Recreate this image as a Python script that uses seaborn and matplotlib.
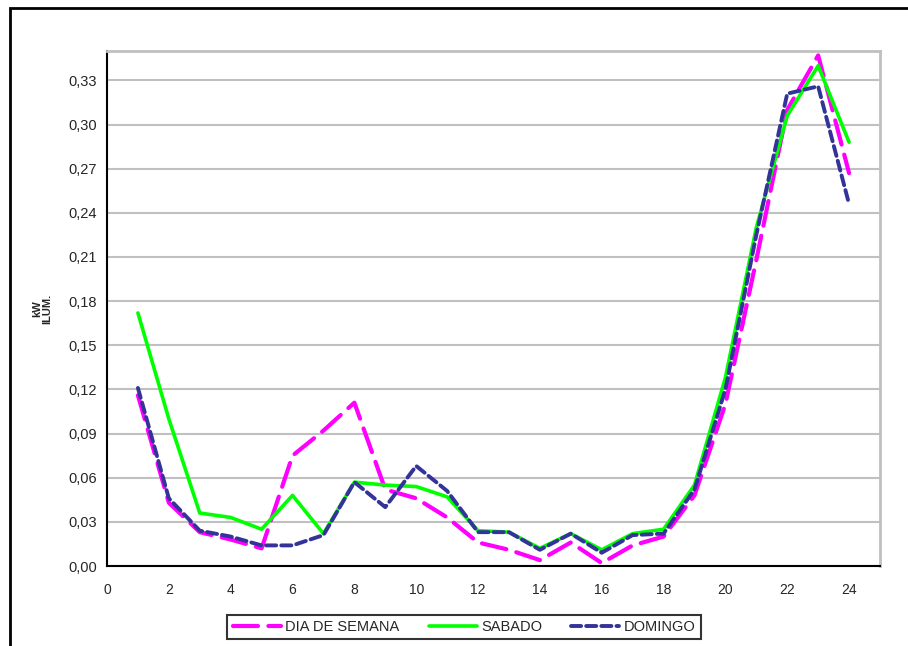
import numpy as np
import pandas as pd
import matplotlib
matplotlib.use("Agg")
import matplotlib.pyplot as plt
import seaborn as sns
from matplotlib.patches import Rectangle

# dados (kW por hora)
horas = list(range(1, 25))
dia_semana = [0.116, 0.043, 0.023, 0.018, 0.012, 0.075, 0.092, 0.111, 0.052, 0.046,
              0.033, 0.016, 0.011, 0.004, 0.016, 0.002, 0.014, 0.020, 0.048, 0.110,
              0.208, 0.310, 0.347, 0.267]
sabado = [0.172, 0.100, 0.036, 0.033, 0.025, 0.048, 0.022, 0.057, 0.055, 0.054,
          0.047, 0.024, 0.023, 0.012, 0.022, 0.011, 0.022, 0.025, 0.055, 0.128,
          0.230, 0.306, 0.340, 0.288]
domingo = [0.121, 0.046, 0.024, 0.020, 0.014, 0.014, 0.021, 0.057, 0.040, 0.068,
           0.051, 0.023, 0.023, 0.011, 0.022, 0.009, 0.021, 0.022, 0.052, 0.120,
           0.225, 0.321, 0.326, 0.246]

series_nomes = ["DIA DE SEMANA", "SABADO", "DOMINGO"]
x_ticks = list(range(0, 26, 2))
y_ticks = [0.00, 0.03, 0.06, 0.09, 0.12, 0.15, 0.18, 0.21, 0.24, 0.27, 0.30, 0.33]
y_labels = ["0,00", "0,03", "0,06", "0,09", "0,12", "0,15", "0,18", "0,21",
            "0,24", "0,27", "0,30", "0,33"]

df = pd.DataFrame({"hora": horas, series_nomes[0]: dia_semana,
                   series_nomes[1]: sabado, series_nomes[2]: domingo})

sns.set_style("white")
plt.rcParams["font.family"] = ["Liberation Sans", "DejaVu Sans"]

fig = plt.figure(figsize=(9.08, 6.46), dpi=100)
ax = fig.add_axes([107 / 908, 1 - 566 / 646, (880 - 107) / 908, (566 - 51) / 646])

estilos = {
    "DIA DE SEMANA": dict(color="#FF00FF", lw=3.0, dashes=(6, 2.5)),
    "SABADO": dict(color="#00FF00", lw=2.6),
    "DOMINGO": dict(color="#333399", lw=2.8, dashes=(2.6, 1.3)),
}

for nome in series_nomes:
    st = estilos[nome]
    sns.lineplot(data=df, x="hora", y=nome, ax=ax, color=st["color"], linewidth=st["lw"],
                 label=nome, solid_capstyle="round", dash_capstyle="round")
    if "dashes" in st:
        ax.lines[-1].set_dashes(st["dashes"])

ax.set_xlim(0, 25)
ax.set_ylim(0, 0.35)
ax.set_xticks(x_ticks)
ax.set_xticklabels([str(t) for t in x_ticks], fontsize=10)
ax.set_yticks(y_ticks)
ax.set_yticklabels(y_labels, fontsize=10.5)
ax.yaxis.grid(True, color="#C0C0C0", linewidth=1.5)
ax.set_axisbelow(True)
ax.tick_params(axis="both", direction="out", length=4, width=1.2, color="black")
ax.tick_params(axis="y", pad=3)
ax.tick_params(axis="x", pad=8)
for s in ["top", "right"]:
    ax.spines[s].set_color("#C0C0C0")
    ax.spines[s].set_linewidth(2)
for s in ["left", "bottom"]:
    ax.spines[s].set_color("black")
    ax.spines[s].set_linewidth(1.5)
ax.set_xlabel("")
ax.set_ylabel("kW\nILUM.", fontsize=8, fontweight="bold", linespacing=0.9, labelpad=12)

ax.get_legend().remove()
handles, labels = ax.get_legend_handles_labels()
leg = fig.legend(handles, labels, loc="center", bbox_to_anchor=(464 / 908, 1 - 627 / 646),
                 ncol=3, fontsize=10.5, frameon=True, fancybox=False, handlelength=3.3,
                 columnspacing=2.0, handletextpad=0.3, borderpad=0.35)
leg.get_frame().set_edgecolor("black")
leg.get_frame().set_linewidth(1.5)

# moldura externa
fig.patches.append(Rectangle((10 / 908, -0.05), 1.0, 1 - 8 / 646 + 0.05,
                             transform=fig.transFigure, fill=False,
                             edgecolor="black", linewidth=2))

fig.savefig("out.png", dpi=100)
